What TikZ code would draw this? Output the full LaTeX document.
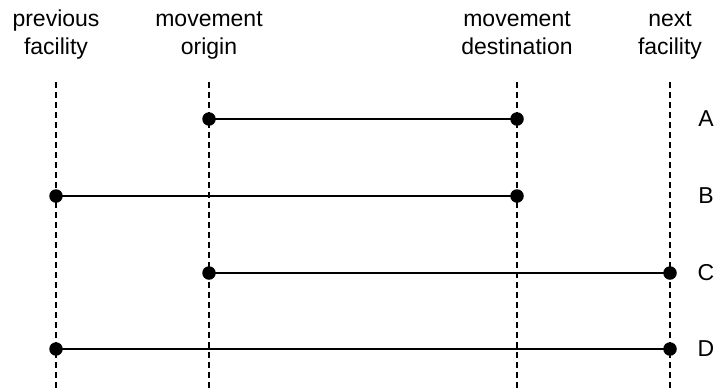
\documentclass[tikz,border=0pt]{standalone}
\usepackage{fontspec}
\setmainfont{Liberation Sans}
\begin{document}
\begin{tikzpicture}[x=1pt,y=-1pt,
  guide/.style={line width=1.6pt,dash pattern=on 6pt off 4pt},
  span/.style={line width=1.8pt},
  dot/.style={circle,fill=black,inner sep=0pt,minimum size=13.5pt},
  head/.style={font=\fontsize{23}{28}\selectfont,align=center,anchor=base},
  rowlab/.style={font=\fontsize{23}{28}\selectfont}]
\useasboundingbox (0,0) rectangle (717,389);
% column headings (anchor base sits on the last line)
\node[head] (hprev) at (56,54) {previous\\facility};
\node[head] (horig) at (209,54) {movement\\origin};
\node[head] (hdest) at (517,54) {movement\\destination};
\node[head] (hnext) at (670,54) {next\\facility};
% dashed guide lines
\foreach \n/\x in {prev/56,orig/209,dest/517,next/670}{
  \coordinate (\n top) at (\x,82);
  \coordinate (\n bot) at (\x,389);
  \draw[guide] (\n top) -- (\n bot);
}
% row end points
\foreach \r/\y in {A/119,B/196,C/273,D/349}{
  \coordinate (\r prev) at (56,\y);
  \coordinate (\r orig) at (209,\y);
  \coordinate (\r dest) at (517,\y);
  \coordinate (\r next) at (670,\y);
  \node[rowlab] (lab\r) at (706,\y) {\r};
}
% movements
\draw[span] (Aorig) -- (Adest);
\draw[span] (Bprev) -- (Bdest);
\draw[span] (Corig) -- (Cnext);
\draw[span] (Dprev) -- (Dnext);
\foreach \p in {Aorig,Adest,Bprev,Bdest,Corig,Cnext,Dprev,Dnext}
  \node[dot] at (\p) {};
\end{tikzpicture}
\end{document}
